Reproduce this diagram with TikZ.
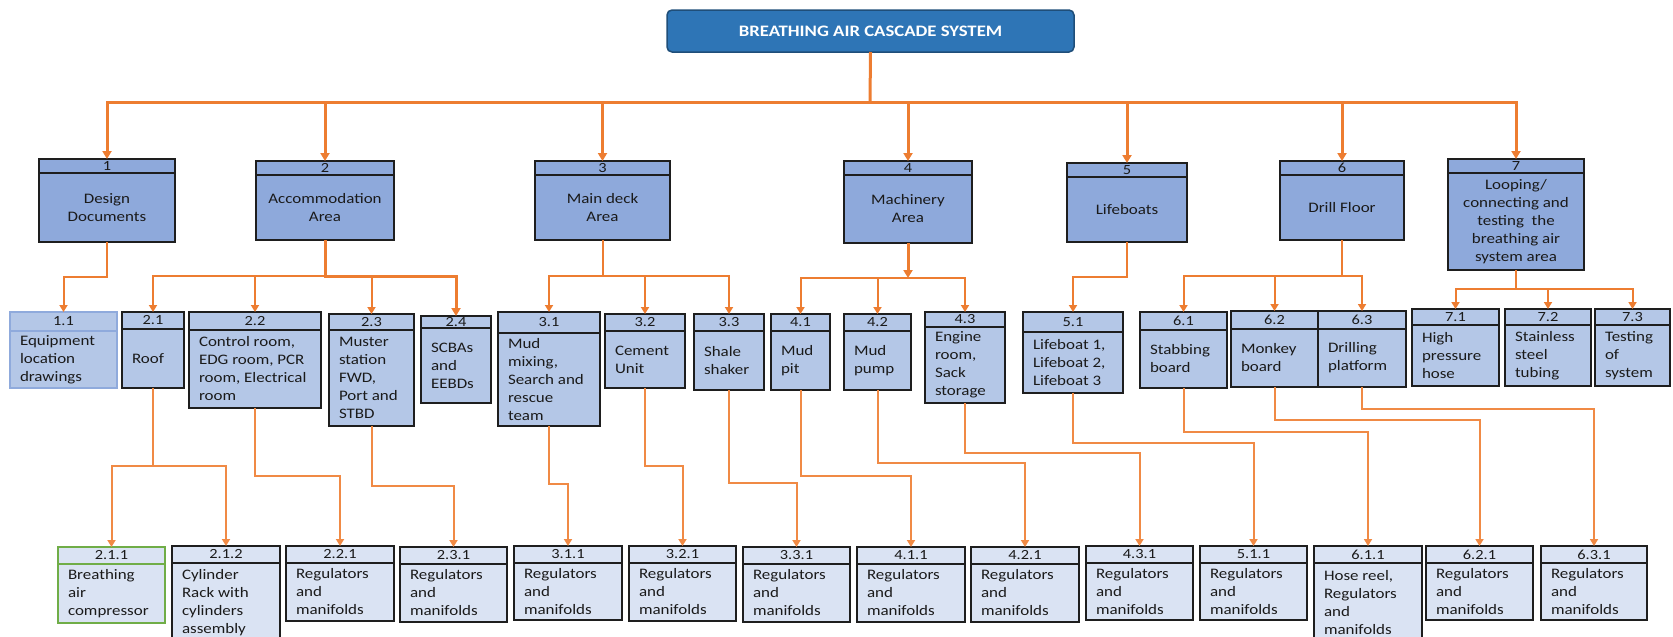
\documentclass[tikz,border=0pt]{standalone}
\usepackage{fontspec}
\setmainfont{Carlito}[FakeStretch=1.17]
\usetikzlibrary{calc,arrows.meta}

\definecolor{orng}{HTML}{ED7D31}
\definecolor{orngl}{HTML}{F08A45}
\definecolor{topfill}{HTML}{2E75B6}
\definecolor{topedge}{HTML}{1F4E79}
\definecolor{lvlone}{HTML}{8EA9DB}
\definecolor{lvltwo}{HTML}{B4C7E7}
\definecolor{lvlthree}{HTML}{DAE3F3}
\definecolor{boxedge}{HTML}{1E1E1E}
\definecolor{docedge}{HTML}{8FAADC}
\definecolor{greenedge}{HTML}{70AD47}
\definecolor{ink}{HTML}{1A1A1A}

\tikzset{
  x=1pt, y=-1pt,
  every node/.style={inner sep=0pt, outer sep=0pt, text=ink},
  topbox/.style={draw=topedge, fill=topfill, line width=1.5pt, rounded corners=5pt,
    text=white, font=\fontsize{16}{18}\selectfont\bfseries},
  boxone/.style={draw=boxedge, fill=lvlone, line width=2pt},
  boxtwo/.style={draw=boxedge, fill=lvltwo, line width=1.8pt},
  boxthree/.style={draw=boxedge, fill=lvlthree, line width=1.8pt},
  boxdoc/.style={draw=docedge, fill=lvltwo, line width=1.5pt},
  boxgreen/.style={draw=greenedge, fill=lvlthree, line width=1.8pt},
  numtxt/.style={font=\fontsize{14}{16}\selectfont},
  ctxt/.style={align=center, font=\fontsize{14.5}{18}\selectfont},
  ltxt/.style={align=left, anchor=west, xshift=10pt, font=\fontsize{14.5}{18}\selectfont},
  trunk/.style={draw=orng, line width=3pt},
  tipbig/.style={-{Triangle[length=8pt,width=9pt]}},
  link/.style={draw=orng, line width=2pt, -{Triangle[length=7pt,width=8pt]}},
  linkthick/.style={draw=orng, line width=3pt, -{Triangle[length=8pt,width=9pt]}},
  linklow/.style={draw=orngl, line width=2pt, -{Triangle[length=7pt,width=8pt]}},
}

% frame of a work-breakdown box: name, style, x1, y1, x2, y2, header height, number
\newcommand\wbsframe[8]{%
  \node[#2, minimum width={#5pt-#3pt}, minimum height={#6pt-#4pt}, anchor=north west] (#1) at (#3,#4) {};
  \draw[#2, fill=none] ([yshift=-#7pt]#1.north west) -- ([yshift=-#7pt]#1.north east);
  \node[numtxt] at ([yshift=-#7pt/2]#1.north) {#8};
}
% box with centred body text
\newcommand\cbox[9]{%
  \wbsframe{#1}{#2}{#3}{#4}{#5}{#6}{#7}{#8}%
  \node[ctxt] (#1-t) at ($(#1.south)!0.5!([yshift=-#7pt]#1.north)$) {#9};
}
% box with left-aligned body text
\newcommand\lbox[9]{%
  \wbsframe{#1}{#2}{#3}{#4}{#5}{#6}{#7}{#8}%
  \node[ltxt] (#1-t) at ($(#1.south west)!0.5!([yshift=-#7pt]#1.north west)$) {#9};
}

\begin{document}
\begin{tikzpicture}
\useasboundingbox (0,0) rectangle (1673,637);

% root
\node[topbox, minimum width=407pt, minimum height=42pt, anchor=north west] (top) at (667,10)
  {BREATHING AIR CASCADE SYSTEM};

% level 1
\cbox{n1}{boxone}{39}{159}{175}{242}{14}{1}{Design\\Documents}
\cbox{n2}{boxone}{256}{161}{394}{240}{14}{2}{Accommodation\\Area}
\cbox{n3}{boxone}{535}{161}{670}{240}{14}{3}{Main deck\\Area}
\cbox{n4}{boxone}{844}{161}{972}{243}{14}{4}{Machinery\\Area}
\cbox{n5}{boxone}{1067}{163}{1187}{242}{14}{5}{Lifeboats}
\cbox{n6}{boxone}{1280}{161}{1404}{240}{14}{6}{Drill Floor}
\cbox{n7}{boxone}{1448}{159}{1584}{270}{14}{7}{Looping/\\connecting and\\testing\ \ the\\breathing air\\system area}

% level 2
\lbox{n11}{boxdoc}{10}{312}{117}{388}{19}{1.1}{Equipment\\location\\drawings}
\lbox{n21}{boxtwo}{122}{312}{184}{388}{17}{2.1}{Roof}
\lbox{n22}{boxtwo}{189}{312}{321}{408}{18}{2.2}{Control room,\\EDG room, PCR\\room, Electrical\\room}
\lbox{n23}{boxtwo}{329}{314}{414}{426}{16}{2.3}{Muster\\station\\FWD,\\Port and\\STBD}
\lbox{n24}{boxtwo}{421}{316}{491}{403}{12}{2.4}{SCBAs\\and\\EEBDs}
\lbox{n31}{boxtwo}{498}{312}{600}{426}{21}{3.1}{Mud\\mixing,\\Search and\\rescue\\team}
\lbox{n32}{boxtwo}{605}{314}{685}{388}{17}{3.2}{Cement\\Unit}
\lbox{n33}{boxtwo}{694}{314}{764}{390}{17}{3.3}{Shale\\shaker}
\lbox{n41}{boxtwo}{771}{314}{830}{390}{17}{4.1}{Mud\\pit}
\lbox{n42}{boxtwo}{844}{314}{911}{390}{17}{4.2}{Mud\\pump}
\lbox{n43}{boxtwo}{925}{312}{1005}{403}{15}{4.3}{Engine\\room,\\Sack\\storage}
\lbox{n51}{boxtwo}{1023}{312}{1123}{393}{20}{5.1}{Lifeboat 1,\\Lifeboat 2,\\Lifeboat 3}
\lbox{n61}{boxtwo}{1140}{312}{1227}{388}{18}{6.1}{Stabbing\\board}
\lbox{n62}{boxtwo}{1231}{311}{1318}{387}{18}{6.2}{Monkey\\board}
\lbox{n63}{boxtwo}{1318}{311}{1406}{387}{18}{6.3}{Drilling\\platform}
\lbox{n71}{boxtwo}{1412}{309}{1499}{386}{16}{7.1}{High\\pressure\\hose}
\lbox{n72}{boxtwo}{1505}{309}{1591}{386}{16}{7.2}{Stainless\\steel\\tubing}
\lbox{n73}{boxtwo}{1595}{309}{1670}{386}{16}{7.3}{Testing\\of\\system}

% level 3
\lbox{n211}{boxgreen}{58}{547}{165}{623}{17}{2.1.1}{Breathing\\air\\compressor}
\lbox{n212}{boxthree}{172}{546}{280}{642}{17}{2.1.2}{Cylinder\\Rack with\\cylinders\\assembly}
\lbox{n221}{boxthree}{286}{546}{394}{621}{17}{2.2.1}{Regulators\\and\\manifolds}
\lbox{n231}{boxthree}{400}{547}{507}{622}{17}{2.3.1}{Regulators\\and\\manifolds}
\lbox{n311}{boxthree}{514}{546}{622}{620}{17}{3.1.1}{Regulators\\and\\manifolds}
\lbox{n321}{boxthree}{629}{546}{736}{621}{17}{3.2.1}{Regulators\\and\\manifolds}
\lbox{n331}{boxthree}{743}{547}{850}{622}{17}{3.3.1}{Regulators\\and\\manifolds}
\lbox{n411}{boxthree}{857}{547}{965}{622}{17}{4.1.1}{Regulators\\and\\manifolds}
\lbox{n421}{boxthree}{971}{547}{1079}{622}{17}{4.2.1}{Regulators\\and\\manifolds}
\lbox{n431}{boxthree}{1086}{546}{1193}{620}{17}{4.3.1}{Regulators\\and\\manifolds}
\lbox{n511}{boxthree}{1200}{546}{1307}{620}{17}{5.1.1}{Regulators\\and\\manifolds}
\lbox{n611}{boxthree}{1314}{546}{1422}{642}{17}{6.1.1}{Hose reel,\\Regulators\\and\\manifolds}
\lbox{n621}{boxthree}{1426}{546}{1533}{620}{17}{6.2.1}{Regulators\\and\\manifolds}
\lbox{n631}{boxthree}{1541}{546}{1647}{620}{17}{6.3.1}{Regulators\\and\\manifolds}

% root to level 1
\coordinate (bus) at (870,102);
\draw[trunk] (top.south) -- (bus);
\foreach \c in {n1,n2,n3,n4,n5,n6,n7}
  \draw[trunk, tipbig] (bus) -| (\c.north);

% level 1 to level 2
\draw[link] (n1.south) -- (n1.south |- 0,277) -| (n11.north);
\draw[link] (n2.south) -- (n2.south |- 0,276) -| (n21.north);
\draw[link] (n2.south) -- (n2.south |- 0,276) -| (n22.north);
\draw[link] (n2.south) -- (n2.south |- 0,276) -| (n23.north);
\draw[linkthick] (n2.south) -- (n2.south |- 0,276) -| (n24.north);
\draw[link] (n3.south) -- (n3.south |- 0,276) -| (n31.north);
\draw[link] (n3.south) -- (n3.south |- 0,276) -| (n32.north);
\draw[link] (n3.south) -- (n3.south |- 0,276) -| (n33.north);
\draw[linkthick] (n4.south) -- (n4.south |- 0,278);
\draw[link] (n4.south |- 0,278) -| (n41.north);
\draw[link] (n4.south |- 0,278) -| (n42.north);
\draw[link] (n4.south |- 0,278) -| (n43.north);
\draw[link] (n5.south) -- (n5.south |- 0,277) -| (n51.north);
\draw[link] (n6.south) -- (n6.south |- 0,276) -| (n61.north);
\draw[link] (n6.south) -- (n6.south |- 0,276) -| (n62.north);
\draw[link] (n6.south) -- (n6.south |- 0,276) -| (n63.north);
\draw[link] (n7.south) -- (n7.south |- 0,289) -| (n71.north);
\draw[link] (n7.south) -- (n7.south |- 0,289) -| (n72.north);
\draw[link] (n7.south) -- (n7.south |- 0,289) -| (n73.north);

% level 2 to level 3
\draw[linklow] (n21.south) -- (n21.south |- 0,466) -| (n211.north);
\draw[linklow] (n21.south) -- (n21.south |- 0,466) -| (n212.north);
\draw[linklow] (n22.south) -- (n22.south |- 0,476) -| (n221.north);
\draw[linklow] (n23.south) -- (n23.south |- 0,486) -| (n231.north);
\draw[linklow] (n31.south) -- (n31.south |- 0,484) -| (n311.north);
\draw[linklow] (n32.south) -- (n32.south |- 0,466) -| (n321.north);
\draw[linklow] (n33.south) -- (n33.south |- 0,483) -| (n331.north);
\draw[linklow] (n41.south) -- (n41.south |- 0,476) -| (n411.north);
\draw[linklow] (n42.south) -- (n42.south |- 0,463) -| (n421.north);
\draw[linklow] (n43.south) -- (n43.south |- 0,453) -| (n431.north);
\draw[linklow] (n51.south) -- (n51.south |- 0,443) -| (n511.north);
\draw[linklow] (n61.south) -- (n61.south |- 0,432) -| (n611.north);
\draw[linklow] (n62.south) -- (n62.south |- 0,420) -| (n621.north);
\draw[linklow] (n63.south) -- (n63.south |- 0,409) -| (n631.north);
\end{tikzpicture}
\end{document}
